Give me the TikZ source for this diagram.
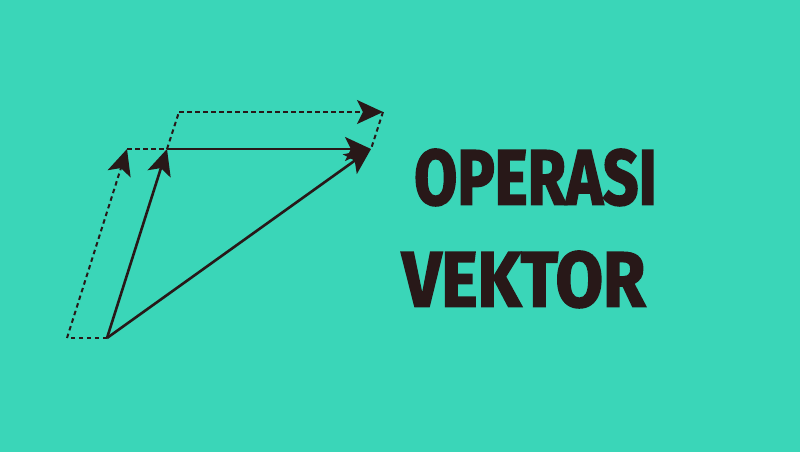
\documentclass[tikz,border=0pt]{standalone}
\usepackage{fontspec}
\setmainfont{Fira Sans}
\newfontfamily\tfont{Fira Sans}[BoldFeatures={FakeBold=2.5}]
\usetikzlibrary{arrows.meta}
\definecolor{bg}{RGB}{58,214,184}
\definecolor{ink}{RGB}{40,24,24}
\begin{document}
\begin{tikzpicture}[x=1pt,y=-1pt,
  vec/.style={draw=ink,line width=2.6pt},
  dvec/.style={draw=ink,line width=2pt,dash pattern=on 4.5pt off 3.5pt},
  tip/.style={-{Stealth[length=26pt,width=24pt,inset=6pt]}},
  title/.style={text=ink,font=\tfont\fontsize{78}{80}\selectfont\bfseries,inner sep=0pt,anchor=south west}]
\fill[bg] (0,0) rectangle (800,452);
\useasboundingbox (0,0) rectangle (800,452);
\coordinate (O) at (107,338);
\coordinate (L) at (67,338);
\coordinate (A) at (167,149);
\coordinate (A2) at (127,149);
\coordinate (C) at (371,149);
\coordinate (U) at (179,112);
\coordinate (V) at (383,112);
% dashed parts
\draw[dvec] (O) -- (L);
\draw[dvec,tip] (L) -- (A2);
\draw[dvec] (A2) -- (A);
\draw[dvec] (A) -- (U);
\draw[dvec,tip] (U) -- (V);
\draw[dvec] (V) -- (C);
% solid vectors
\draw[vec,tip] (O) -- (A);
\draw[vec,tip] (A) -- (C);
\draw[vec,tip] (O) -- (C);
\node[title,xscale=0.8] (t1) at (414,206) {OPERASI};
\node[title,xscale=0.88] (t2) at (402,308) {VEKTOR};
\end{tikzpicture}
\end{document}
